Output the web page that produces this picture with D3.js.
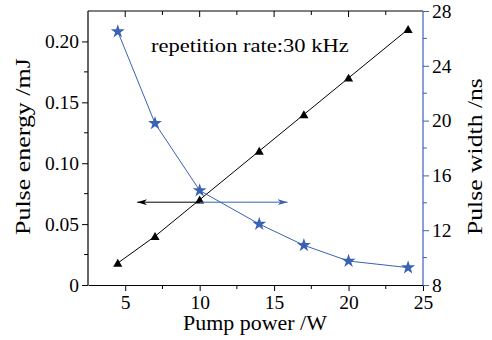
<!DOCTYPE html>
<html><head><meta charset="utf-8">
<script src="https://cdn.jsdelivr.net/npm/d3@7"></script>
<style>body{margin:0;background:#fff}</style>
</head><body><svg id="c" width="492" height="340"></svg>
<script>
const pumpPower = [4.5, 7, 10, 14, 17, 20, 24];
const pulseEnergy = [0.018, 0.040, 0.070, 0.110, 0.140, 0.170, 0.210];
const pulseWidth = [26.5, 19.8, 14.9, 12.45, 10.9, 9.75, 9.27];
const xTicks = [5, 10, 15, 20, 25];
const yLeftTicks = [0, 0.05, 0.10, 0.15, 0.20];
const yLeftLabels = ["0", "0.05", "0.10", "0.15", "0.20"];
const yRightTicks = [8, 12, 16, 20, 24, 28];

const FONT = '"Liberation Serif"';
const blue = "#3a62b4";
const svg = d3.select("#c");
const L = 88, R = 423, T = 11, B = 285;
const x = d3.scaleLinear().domain([2.5, 25]).range([L, R]);
const yL = d3.scaleLinear().domain([0, 0.225]).range([B, T]);
const yR = d3.scaleLinear().domain([8, 28]).range([B, T]);
const fs = "19.5px";

function styleTicks(sel) {
  sel.style("font-family", FONT).style("font-size", fs);
}

// frame top
svg.append("line").attr("x1", L).attr("x2", R).attr("y1", T).attr("y2", T).attr("stroke", "#000").attr("stroke-width", 1.2);

// bottom axis
const gx = svg.append("g").attr("transform", `translate(0,${B})`)
  .call(d3.axisBottom(x).tickValues(xTicks).tickSize(6).tickSizeOuter(0).tickPadding(4).tickFormat(d3.format("d")));
gx.attr("font-family", FONT);
gx.selectAll(".tick text").call(styleTicks);
gx.append("g").selectAll("line").data(d3.range(7.5, 25, 5)).join("line")
  .attr("x1", d => x(d)).attr("x2", d => x(d)).attr("y1", 0).attr("y2", 4).attr("stroke", "#000");
// top ticks inward
const gt = svg.append("g").attr("transform", `translate(0,${T})`);
gt.selectAll("line").data(d3.range(5, 25, 2.5)).join("line")
  .attr("x1", d => x(d)).attr("x2", d => x(d)).attr("y1", 0).attr("y2", d => d % 5 === 0 ? 6 : 4).attr("stroke", "#000");

// left axis
const gy = svg.append("g").attr("transform", `translate(${L},0)`)
  .call(d3.axisLeft(yL).tickValues(yLeftTicks).tickSize(6).tickSizeOuter(0).tickPadding(3).tickFormat((d, i) => yLeftLabels[i]));
gy.attr("font-family", FONT);
gy.select(".domain").attr("d", `M0,${B}V${T}`);
gy.selectAll(".tick text").call(styleTicks);
gy.append("g").selectAll("line").data(d3.range(0.025, 0.225, 0.05)).join("line")
  .attr("y1", d => yL(d)).attr("y2", d => yL(d)).attr("x1", 0).attr("x2", -4).attr("stroke", "#000");

// right axis (blue)
const gr = svg.append("g").attr("transform", `translate(${R},0)`)
  .call(d3.axisRight(yR).tickValues(yRightTicks).tickSize(6).tickSizeOuter(0).tickPadding(3).tickFormat(d3.format("d")));
gr.attr("font-family", FONT);
gr.select(".domain").attr("stroke", blue).attr("d", `M0,${B}V${T}`);
gr.selectAll(".tick line").attr("stroke", blue);
gr.selectAll(".tick text").attr("fill", "#000").call(styleTicks);
gr.append("g").selectAll("line").data(d3.range(10, 28, 4)).join("line")
  .attr("y1", d => yR(d)).attr("y2", d => yR(d)).attr("x1", 0).attr("x2", 4).attr("stroke", blue);
svg.selectAll(".domain").attr("stroke-width", 1.2);

// lines
svg.append("path").datum(pumpPower.map((p, i) => [p, pulseEnergy[i]]))
  .attr("fill", "none").attr("stroke", "#000").attr("stroke-width", 1)
  .attr("d", d3.line().x(d => x(d[0])).y(d => yL(d[1])));
svg.append("path").datum(pumpPower.map((p, i) => [p, pulseWidth[i]]))
  .attr("fill", "none").attr("stroke", blue).attr("stroke-width", 1)
  .attr("d", d3.line().x(d => x(d[0])).y(d => yR(d[1])));

// markers
svg.append("g").selectAll("path").data(pumpPower.map((p, i) => [p, pulseWidth[i]])).join("path")
  .attr("transform", d => `translate(${x(d[0])},${yR(d[1])})`)
  .attr("d", d3.symbol(d3.symbolStar, 60)).attr("fill", blue);
svg.append("g").selectAll("path").data(pumpPower.map((p, i) => [p, pulseEnergy[i]])).join("path")
  .attr("transform", d => `translate(${x(d[0])},${yL(d[1]) + 1})`)
  .attr("d", d3.symbol(d3.symbolTriangle, 36)).attr("fill", "#000");

// arrows
const defs = svg.append("defs");
function marker(id, col) {
  defs.append("marker").attr("id", id).attr("viewBox", "0 0 10 6").attr("refX", 10).attr("refY", 3)
    .attr("markerWidth", 10).attr("markerHeight", 6).attr("markerUnits", "userSpaceOnUse").attr("orient", "auto")
    .append("path").attr("d", "M0,0L10,3L0,6L3,3Z").attr("fill", col);
}
marker("ab", "#000"); marker("ablue", blue);
const arrowY = yL(0.068);
svg.append("line").attr("x1", x(10)).attr("x2", x(5.8)).attr("y1", arrowY).attr("y2", arrowY)
  .attr("stroke", "#000").attr("stroke-width", 1).attr("marker-end", "url(#ab)");
svg.append("line").attr("x1", x(10)).attr("x2", x(15.9)).attr("y1", arrowY).attr("y2", arrowY)
  .attr("stroke", blue).attr("stroke-width", 1).attr("marker-end", "url(#ablue)");

// texts (stretched horizontally to the reference widths)
function label(t, size, len, tx, ty, rot) {
  const el = svg.append("text").style("font-family", FONT).style("font-size", size).text(t);
  const w = el.node().getComputedTextLength() || len;
  el.attr("transform", `translate(${tx},${ty})${rot ? " rotate(-90)" : ""} scale(${len / w},1)`);
  return el;
}
label("repetition rate:30 kHz", "19px", 198, 151, 52, false);
label("Pump power /W", "20px", 144, 183, 330, false);
label("Pulse energy /mJ", "20px", 177, 30, 235, true);
label("Pulse width /ns", "20px", 157, 482, 235, true);
</script></body></html>
